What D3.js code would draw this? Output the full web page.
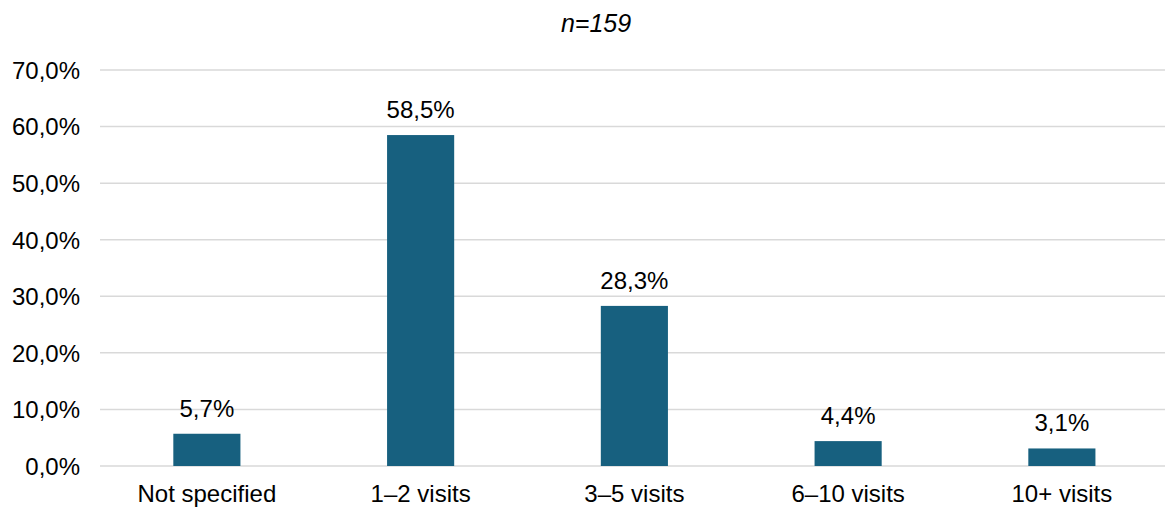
<!DOCTYPE html>
<html><head><meta charset="utf-8">
<script src="https://cdn.jsdelivr.net/npm/d3@7"></script>
<style>html,body{margin:0;padding:0;background:#fff;}svg{display:block;font-family:"Liberation Sans",Arial,sans-serif;}</style>
</head><body>
<svg id="c" width="1165" height="509"></svg>
<script>
const categories = ["Not specified", "1–2 visits", "3–5 visits", "6–10 visits", "10+ visits"];
const values = [5.7, 58.5, 28.3, 4.4, 3.1];
const yTicks = [0, 10, 20, 30, 40, 50, 60, 70];
const title = "n=159";

const svg = d3.select("#c");
const x0 = 100, x1 = 1168.75, yTop = 70, yBot = 466;
const x = d3.scaleBand().domain(categories).range([x0, x1]).paddingInner(0.686).paddingOuter(0.343);
const y = d3.scaleLinear().domain([0, 70]).range([yBot, yTop]);
const fmt = v => d3.format(".1f")(v).replace(".", ",") + "%";

// gridlines
svg.append("g").selectAll("line").data(yTicks).join("line")
  .attr("x1", x0).attr("x2", 1165)
  .attr("y1", d => y(d)).attr("y2", d => y(d))
  .attr("stroke", "#d9d9d9").attr("stroke-width", 1.5);

// y axis labels
const yAxis = d3.axisLeft(y).tickValues(yTicks).tickFormat(fmt).tickSize(0).tickPadding(0);
const ya = svg.append("g").attr("transform", "translate(80,0)").call(yAxis);
ya.select(".domain").remove();
ya.selectAll("text").attr("font-size", 24).attr("fill", "#000").attr("font-family", "Liberation Sans, Arial, sans-serif").attr("dy", "0.35em");

// bars
svg.append("g").selectAll("rect").data(values).join("rect")
  .attr("x", (d, i) => x(categories[i]))
  .attr("width", x.bandwidth())
  .attr("y", d => y(d))
  .attr("height", d => y(0) - y(d))
  .attr("fill", "#17607f");

// value labels
svg.append("g").selectAll("text").data(values).join("text")
  .attr("x", (d, i) => x(categories[i]) + x.bandwidth() / 2)
  .attr("y", d => y(d) - 17)
  .attr("text-anchor", "middle").attr("font-size", 24).attr("fill", "#000")
  .text(d => fmt(d));

// x axis labels
const xAxis = d3.axisBottom(x).tickSize(0).tickPadding(0);
const xa = svg.append("g").attr("transform", "translate(0,502)").call(xAxis);
xa.select(".domain").remove();
xa.selectAll("text").attr("font-size", 24).attr("fill", "#000").attr("font-family", "Liberation Sans, Arial, sans-serif").attr("dy", 0);

// title
svg.append("text").attr("x", 596).attr("y", 32).attr("text-anchor", "middle")
  .attr("font-size", 25).attr("font-style", "italic").attr("fill", "#000").text(title);
</script>
</body></html>
